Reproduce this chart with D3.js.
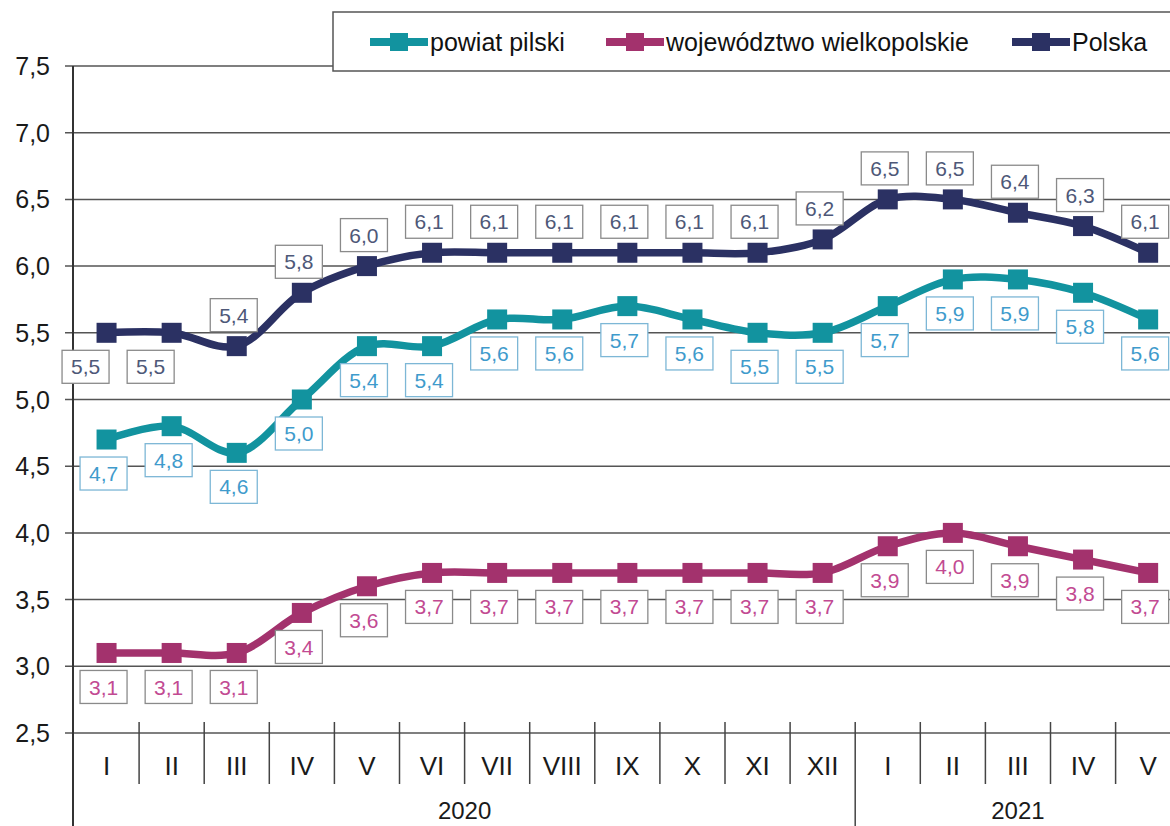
<!DOCTYPE html>
<html>
<head>
<meta charset="utf-8">
<script src="https://cdn.jsdelivr.net/npm/d3@7"></script>
<style>
  html, body { margin: 0; padding: 0; background: #fff; }
  svg { display: block; font-family: "Liberation Sans", Arial, sans-serif; }
</style>
</head>
<body>
<div id="chart"></div>
<script>
// Months (roman numerals), 2020 I–XII and 2021 I–V
const months = ["I", "II", "III", "IV", "V", "VI", "VII", "VIII", "IX", "X", "XI", "XII",
                "I", "II", "III", "IV", "V"];
const yearLabels = ["2020", "2021"];
const yearMonthCounts = [12, 5];

const yTicks = [2.5, 3.0, 3.5, 4.0, 4.5, 5.0, 5.5, 6.0, 6.5, 7.0, 7.5];

const seriesNames = ["powiat pilski", "województwo wielkopolskie", "Polska"];
const powiatPilski = [4.7, 4.8, 4.6, 5.0, 5.4, 5.4, 5.6, 5.6, 5.7, 5.6, 5.5, 5.5, 5.7, 5.9, 5.9, 5.8, 5.6];
const wielkopolskie = [3.1, 3.1, 3.1, 3.4, 3.6, 3.7, 3.7, 3.7, 3.7, 3.7, 3.7, 3.7, 3.9, 4.0, 3.9, 3.8, 3.7];
const polska = [5.5, 5.5, 5.4, 5.8, 6.0, 6.1, 6.1, 6.1, 6.1, 6.1, 6.1, 6.2, 6.5, 6.5, 6.4, 6.3, 6.1];

// which points of the Polska series carry their label below instead of above
const polskaLabelsBelow = [0, 1];

const W = 1170, H = 826;
const fmt = v => d3.format(".1f")(v).replace(".", ",");

const series = [
  { name: seriesNames[0], values: powiatPilski, color: "#12939f", text: "#3f9bcc", box: "#7db7d6", below: () => true },
  { name: seriesNames[1], values: wielkopolskie, color: "#a3326d", text: "#c24a92", box: "#8a8a8a", below: () => true },
  { name: seriesNames[2], values: polska, color: "#2b3163", text: "#4e5878", box: "#8a8a8a", below: i => polskaLabelsBelow.includes(i), belowShift: -18 }
];

const svg = d3.select("#chart").append("svg")
  .attr("width", W).attr("height", H);

const x = d3.scaleBand()
  .domain(d3.range(months.length))
  .range([74, 74 + 65.1 * months.length]);

const y = d3.scaleLinear()
  .domain([2.5, 7.5])
  .range([733, 66]);

const cx = i => x(i) + x.bandwidth() / 2;

// Gridlines with left ticks
svg.append("g")
  .selectAll("line")
  .data(yTicks)
  .join("line")
  .attr("x1", 65).attr("x2", W)
  .attr("y1", d => y(d)).attr("y2", d => y(d))
  .attr("stroke", "#555").attr("stroke-width", 1.5);

// Y tick labels
svg.append("g")
  .selectAll("text")
  .data(yTicks)
  .join("text")
  .attr("x", 50).attr("y", d => y(d))
  .attr("dy", "0.36em")
  .attr("text-anchor", "end")
  .attr("font-size", 25)
  .attr("fill", "#1a1a1a")
  .text(fmt);

// Left axis line (runs down past the category row)
svg.append("line")
  .attr("x1", 73).attr("x2", 73)
  .attr("y1", y(7.5)).attr("y2", H)
  .attr("stroke", "#333").attr("stroke-width", 2);

// Category separators
const yearBreaks = d3.cumsum(yearMonthCounts);
svg.append("g")
  .selectAll("line")
  .data(d3.range(1, months.length))
  .join("line")
  .attr("x1", d => x(d)).attr("x2", d => x(d))
  .attr("y1", 722)
  .attr("y2", d => yearBreaks.includes(d) ? H : 784)
  .attr("stroke", "#444").attr("stroke-width", 1.5);

// Month labels
svg.append("g")
  .selectAll("text")
  .data(months)
  .join("text")
  .attr("x", (d, i) => cx(i))
  .attr("y", 775)
  .attr("text-anchor", "middle")
  .attr("font-size", 26)
  .attr("fill", "#1a1a1a")
  .text(d => d);

// Year labels
const yearStarts = [0, ...yearBreaks.slice(0, -1)];
svg.append("g")
  .selectAll("text")
  .data(yearLabels)
  .join("text")
  .attr("x", (d, i) => (x(yearStarts[i]) + x(yearStarts[i] + yearMonthCounts[i] - 1) + x.bandwidth()) / 2)
  .attr("y", 819)
  .attr("text-anchor", "middle")
  .attr("font-size", 24)
  .attr("fill", "#1a1a1a")
  .text(d => d);

// Lines
const line = d3.line()
  .x((d, i) => cx(i))
  .y(d => y(d))
  .curve(d3.curveCatmullRom.alpha(0.5));

series.forEach(s => {
  svg.append("path")
    .datum(s.values)
    .attr("d", line)
    .attr("fill", "none")
    .attr("stroke", s.color)
    .attr("stroke-width", 7.5)
    .attr("stroke-linejoin", "round");

  svg.append("g")
    .selectAll("rect")
    .data(s.values)
    .join("rect")
    .attr("x", (d, i) => cx(i) - 10)
    .attr("y", d => y(d) - 10)
    .attr("width", 20).attr("height", 20)
    .attr("fill", s.color);
});

// Value labels in boxes
const boxW = 47, boxH = 33;
series.forEach(s => {
  const g = svg.append("g")
    .selectAll("g")
    .data(s.values)
    .join("g")
    .attr("transform", (d, i) => {
      const below = s.below(i);
      const bx = cx(i) - 3 + (below && s.belowShift ? s.belowShift : 0);
      const by = y(d) + (below ? 34 : -31);
      return `translate(${bx},${by})`;
    });
  g.append("rect")
    .attr("x", -boxW / 2).attr("y", -boxH / 2)
    .attr("width", boxW).attr("height", boxH)
    .attr("fill", "#fff")
    .attr("stroke", s.box).attr("stroke-width", 1.3);
  g.append("text")
    .attr("text-anchor", "middle")
    .attr("dy", "0.36em")
    .attr("font-size", 21)
    .attr("fill", s.text)
    .text(fmt);
});

// Legend
const legend = svg.append("g");
legend.append("rect")
  .attr("x", 333).attr("y", 12)
  .attr("width", 900).attr("height", 59)
  .attr("fill", "#fff")
  .attr("stroke", "#555").attr("stroke-width", 1.5);

const legendX = [370, 606, 1012];
series.forEach((s, k) => {
  const lx = legendX[k];
  const item = legend.append("g").attr("transform", `translate(${lx},42)`);
  item.append("line")
    .attr("x1", 0).attr("x2", 58)
    .attr("stroke", s.color).attr("stroke-width", 8);
  item.append("rect")
    .attr("x", 20).attr("y", -9).attr("width", 18).attr("height", 18)
    .attr("fill", s.color);
  item.append("text")
    .attr("x", 60).attr("dy", "0.36em")
    .attr("font-size", 25)
    .attr("fill", "#111")
    .text(s.name);
});
</script>
</body>
</html>
